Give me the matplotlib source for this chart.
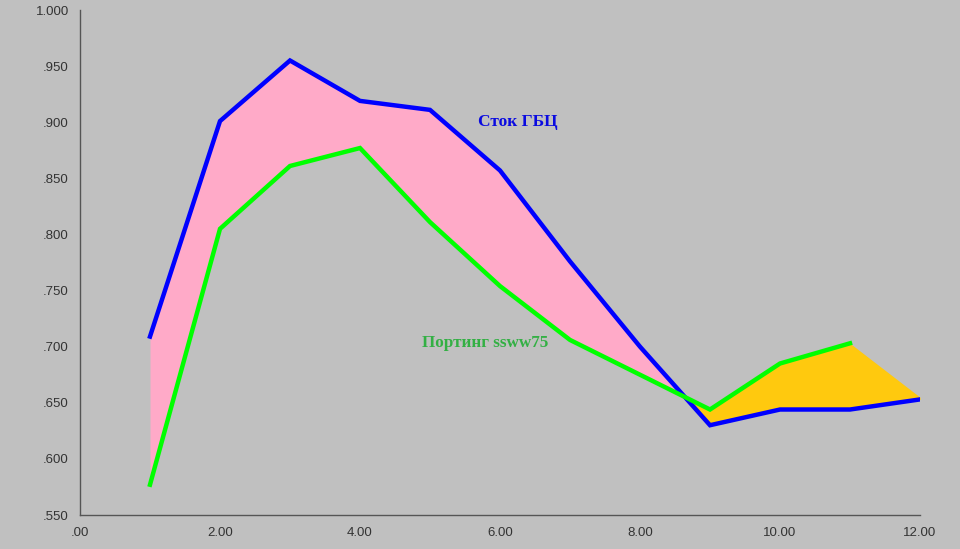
import matplotlib.pyplot as plt
from matplotlib.ticker import FuncFormatter

# data
x = [1, 2, 3, 4, 5, 6, 7, 8, 9, 10, 11, 12]
stock = [0.709, 0.901, 0.955, 0.919, 0.911, 0.857, 0.776, 0.700, 0.630, 0.644, 0.644, 0.653]
porting = [0.577, 0.805, 0.861, 0.877, 0.811, 0.754, 0.706, 0.675, 0.644, 0.685, 0.703, 0.655]

x_ticks = [0, 2, 4, 6, 8, 10, 12]
y_ticks = [0.55, 0.60, 0.65, 0.70, 0.75, 0.80, 0.85, 0.90, 0.95, 1.00]

bg = '#c0c0c0'


def strip_zero(fmt):
    def f(v, pos):
        s = fmt.format(v)
        return s[1:] if s.startswith('0') else s
    return f


fig = plt.figure(figsize=(9.6, 5.49), dpi=100, facecolor=bg)
ax = fig.add_axes([80 / 960, 34 / 549, 840 / 960, 505 / 549])
ax.set_facecolor(bg)

# areas between the two curves
ax.fill_between(x, stock, porting, where=[s >= p for s, p in zip(stock, porting)],
                interpolate=True, color='#ffaac8', lw=0)
ax.fill_between(x, stock, porting, where=[s < p for s, p in zip(stock, porting)],
                interpolate=True, color='#ffc90e', lw=0)

ax.plot(x, stock, color='#0000ff', lw=3.2, solid_joinstyle='miter')
ax.plot(x[:-1], porting[:-1], color='#00ff00', lw=3.2, solid_joinstyle='miter')

ax.text(6.25, 0.9, 'Сток ГБЦ', color='#0a0ae0', fontsize=12.5, fontweight='bold',
        family='Liberation Serif', ha='center', va='center')
ax.text(5.79, 0.703, 'Портинг ssww75', color='#33b044', fontsize=12.3, fontweight='bold',
        family='Liberation Serif', ha='center', va='center')

ax.set_xlim(0, 12)
ax.set_ylim(0.55, 1.0)
ax.set_xticks(x_ticks)
ax.set_yticks(y_ticks)
ax.xaxis.set_major_formatter(FuncFormatter(strip_zero('{:.2f}')))
ax.yaxis.set_major_formatter(FuncFormatter(strip_zero('{:.3f}')))
ax.tick_params(length=0, labelsize=9.5, labelcolor='#333333')
for lbl in ax.get_xticklabels() + ax.get_yticklabels():
    lbl.set_family('Liberation Sans')
ax.tick_params(axis='x', pad=9)
ax.tick_params(axis='y', pad=8)

for side in ['top', 'right']:
    ax.spines[side].set_visible(False)
for side in ['left', 'bottom']:
    ax.spines[side].set_color('#555555')
    ax.spines[side].set_linewidth(1)

fig.savefig('out.png', dpi=100, facecolor=bg)
